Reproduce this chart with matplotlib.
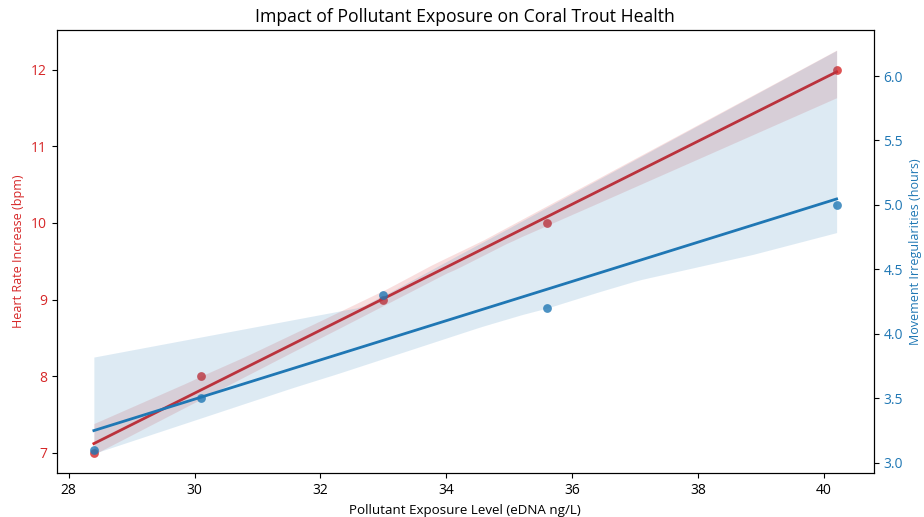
import itertools
import numpy as np
import matplotlib
matplotlib.use("Agg")
import matplotlib.pyplot as plt

# ---- data ----
exposure = [28.4, 30.1, 33.0, 35.6, 40.2]
heart_rate = [7, 8, 9, 10, 12]
movement = [3.1, 3.5, 4.3, 4.2, 5.0]

title = "Impact of Pollutant Exposure on Coral Trout Health"
xlabel = "Pollutant Exposure Level (eDNA ng/L)"
ylabel_left = "Heart Rate Increase (bpm)"
ylabel_right = "Movement Irregularities (hours)"

RED = "#d62728"
BLUE = "#1f77b4"

plt.rcParams['font.family'] = ['Open Sans', 'DejaVu Sans']


def regression_with_ci(x, y, grid):
    """Linear fit and 95% CI from the exhaustive (deterministic) bootstrap."""
    x = np.asarray(x, float)
    y = np.asarray(y, float)
    X = np.c_[np.ones_like(x), x]
    G = np.c_[np.ones_like(grid), grid]
    yhat = G @ (np.linalg.pinv(X) @ y)
    n = len(x)
    boots = []
    for idx in itertools.product(range(n), repeat=n):
        idx = list(idx)
        beta = np.linalg.pinv(X[idx]) @ y[idx]
        boots.append(G @ beta)
    boots = np.array(boots)
    lo, hi = np.nanpercentile(boots, [2.5, 97.5], axis=0)
    return yhat, lo, hi


fig = plt.figure(figsize=(9.24, 5.17), dpi=100)
ax1 = fig.add_axes([0.0614, 0.0845, 0.9456 - 0.0614, 0.942 - 0.0845])
ax2 = ax1.twinx()

grid = np.linspace(min(exposure), max(exposure), 100)

for ax, yvals, col in ((ax1, heart_rate, RED), (ax2, movement, BLUE)):
    yhat, lo, hi = regression_with_ci(exposure, yvals, grid)
    ax.scatter(exposure, yvals, color=col, alpha=0.8, s=40, linewidths=0, zorder=3)
    ax.fill_between(grid, lo, hi, color=col, alpha=0.15, linewidth=0)
    ax.plot(grid, yhat, color=col, lw=2, zorder=2)

ax1.set_xlim(27.81, 40.79)
ax1.set_ylim(6.73, 12.52)
ax2.set_ylim(2.918, 6.357)

ax1.set_xticks([28, 30, 32, 34, 36, 38, 40])
ax1.set_yticks([7, 8, 9, 10, 11, 12])
ax2.set_yticks([3.0, 3.5, 4.0, 4.5, 5.0, 5.5, 6.0])
ax2.set_yticklabels([f"{v:.1f}" for v in [3.0, 3.5, 4.0, 4.5, 5.0, 5.5, 6.0]])

ax1.tick_params(axis='y', labelcolor=RED, labelsize=10)
ax1.tick_params(axis='x', labelsize=10)
ax2.tick_params(axis='y', labelcolor=BLUE, labelsize=10)

ax1.set_xlabel(xlabel, fontsize=9.6)
ax1.set_ylabel(ylabel_left, color=RED, fontsize=9)
ax2.set_ylabel(ylabel_right, color=BLUE, fontsize=9)
ax1.set_title(title, fontsize=12.7)

fig.savefig("out.png", dpi=100)
